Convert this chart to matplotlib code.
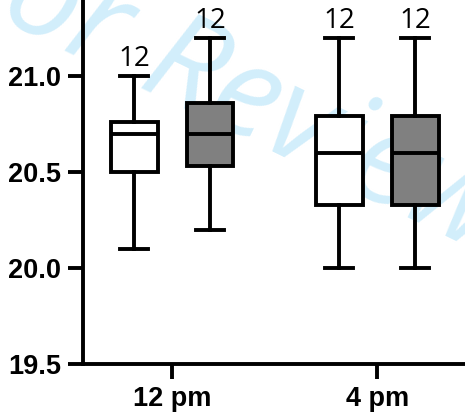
import matplotlib
matplotlib.use("Agg")
import matplotlib.pyplot as plt

# data
times = ["12 pm", "4 pm"]
n_labels = ["12", "12", "12", "12"]
whislo = [20.10, 20.20, 20.00, 20.00]
q1 = [20.50, 20.53, 20.33, 20.33]
med = [20.70, 20.70, 20.60, 20.60]
q3 = [20.76, 20.86, 20.79, 20.79]
whishi = [21.00, 21.20, 21.20, 21.20]
fills = ["white", "#808080", "white", "#808080"]

offset = 0.185
positions = []
for i in range(len(times)):
    positions += [i + 1 - offset, i + 1 + offset]

stats = []
for k in range(len(med)):
    stats.append(dict(whislo=whislo[k], q1=q1[k], med=med[k], q3=q3[k],
                      whishi=whishi[k], fliers=[]))

fig = plt.figure(figsize=(4.65, 4.16), dpi=100)
ax = fig.add_axes([83 / 465, 52 / 416, 1 - 83 / 465, 364 / 416])
ax.patch.set_facecolor("none")

# watermark behind everything
fig.text(0.485, 0.78, "For Review", fontsize=92, color="#d2eefb", rotation=-26,
         ha="center", va="center", rotation_mode="anchor", family="Open Sans",
         style="italic", zorder=-1)

lw = 2.8
bp = ax.bxp(stats, positions=positions, widths=0.229, patch_artist=True,
            showfliers=False, capwidths=0.137,
            boxprops=dict(linewidth=lw, edgecolor="black"),
            medianprops=dict(linewidth=lw, color="black"),
            whiskerprops=dict(linewidth=lw, color="black"),
            capprops=dict(linewidth=lw, color="black"))
for patch, c in zip(bp["boxes"], fills):
    patch.set_facecolor(c)

for x, top, lab in zip(positions, whishi, n_labels):
    ax.annotate(lab, (x, top), xytext=(0, 7), textcoords="offset points",
                ha="center", va="baseline", fontsize=20, family="Open Sans")

ax.set_xlim(0.566, 2.428)
ax.set_ylim(19.5, 21.396)
ax.set_xticks([1, 2])
ax.set_xticklabels(times)
ax.set_yticks([19.5, 20.0, 20.5, 21.0])
ax.set_yticklabels(["19.5", "20.0", "20.5", "21.0"])

for lbl in ax.get_xticklabels() + ax.get_yticklabels():
    lbl.set_fontfamily("Liberation Sans")
    lbl.set_fontweight("bold")
    lbl.set_fontsize(19.5)

ax.tick_params(axis="both", length=11, width=lw, direction="out", pad=5)
ax.spines["top"].set_visible(False)
ax.spines["right"].set_visible(False)
ax.spines["left"].set_linewidth(lw)
ax.spines["bottom"].set_linewidth(lw)

fig.savefig("out.png", dpi=100)
